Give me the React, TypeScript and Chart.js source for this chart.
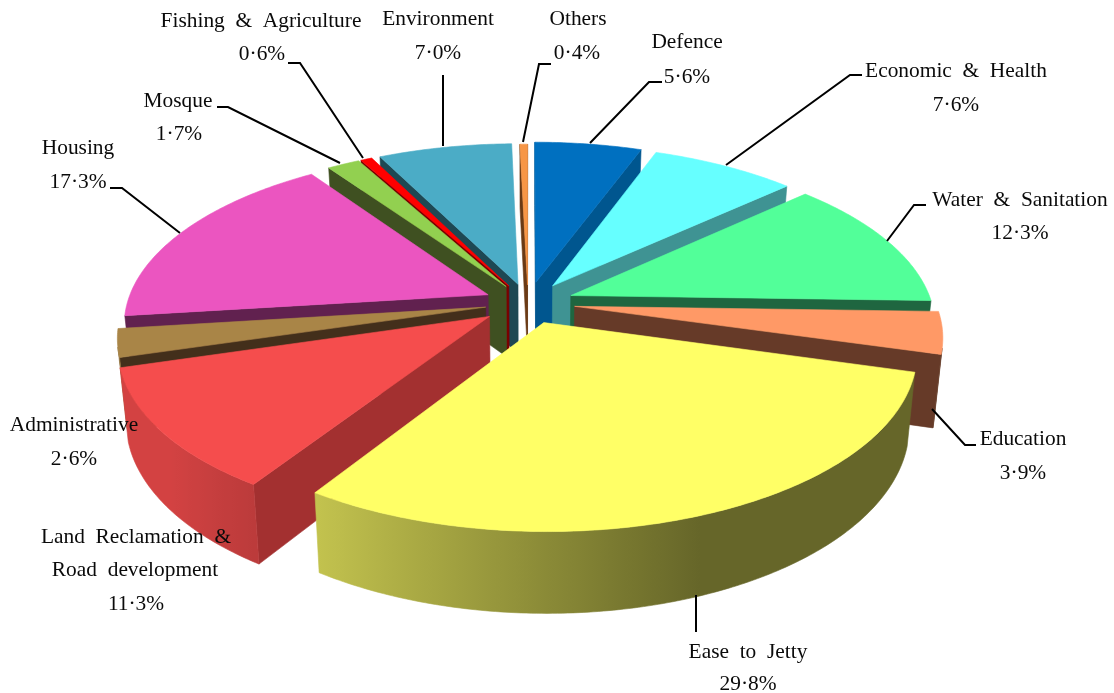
import React, { useEffect, useRef } from "react";
import { Chart, registerables } from "chart.js";

Chart.register(...registerables);

const categories = ["Defence", "Economic & Health", "Water & Sanitation", "Education", "Ease to Jetty", "Land Reclamation & Road development", "Administrative", "Housing", "Mosque", "Fishing & Agriculture", "Environment", "Others"];
const values = [5.6, 7.6, 12.3, 3.9, 29.8, 11.3, 2.6, 17.3, 1.7, 0.6, 7.0, 0.4];
const explode = [184, 180, 184, 188, 176, 190, 172, 176, 168, 168, 168, 158];
const topColors = ["#0070C0", "#66FFFF", "#52FF99", "#FF9966", "#FFFF66", "#F54D4D", "#A98547", "#EB55C0", "#92D050", "#FF0000", "#4BACC6", "#F79646"];
const wallColors = ["#00568F", "#3F9393", "#1F6640", "#663A28", "#66662A", "#A33030", "#432F1B", "#61214F", "#3F5021", "#7A0000", "#1E4853", "#6A3A15"];

// Label layout: lines with centre x and middle y; the last line holds the percentage.
const labelLines: [string, number, number][][] = [
  [["Defence", 687, 42]],
  [["Economic  &  Health", 956, 71]],
  [["Water  &  Sanitation", 1020, 200]],
  [["Education", 1023, 439]],
  [["Ease  to  Jetty", 748, 652]],
  [["Land  Reclamation  &", 136, 537], ["Road  development", 135, 570]],
  [["Administrative", 74, 425]],
  [["Housing", 78, 148]],
  [["Mosque", 178, 101]],
  [["Fishing  &  Agriculture", 261, 21]],
  [["Environment", 438, 19]],
  [["Others", 578, 19]],
];
const percentPos: [number, number][] = [[687, 77], [956, 105], [1020, 233], [1023, 473], [748, 684], [136, 604], [74, 459], [78, 182], [179, 134], [262, 54], [438, 53], [577, 53]];
const leaders: ([number, number][] | null)[] = [
  [[590, 143], [649, 82], [662, 82]],
  [[726, 165], [850, 75], [862, 75]],
  [[887, 241], [914, 205], [926, 205]],
  [[932, 409], [965, 445], [976, 445]],
  [[696, 595], [696, 632]],
  null,
  null,
  [[180, 233], [122, 188], [110, 188]],
  [[340, 163], [228, 107], [217, 107]],
  [[363, 158], [300, 63], [288, 63]],
  [[443, 146], [443, 75]],
  [[523, 142], [539, 64], [551, 64]],
];

const RADIUS = 361;
const TILT = 0.467;
const PERSP = 0.16;
const DEPTH = 71;
const Z_SHRINK = 0.02;

function shade(hex: string, f: number) {
  const n = parseInt(hex.slice(1), 16);
  return `rgb(${Math.round(((n >> 16) & 255) * f)},${Math.round(((n >> 8) & 255) * f)},${Math.round((n & 255) * f)})`;
}

const pie3d = {
  id: "pie3d",
  beforeDatasetDraw(chart: any) {
    const ctx: CanvasRenderingContext2D = chart.ctx;
    const arcs = chart.getDatasetMeta(0).data as any[];
    const order = arcs.map((_, i) => i).sort((a, b) => {
      const ma = (arcs[a].startAngle + arcs[a].endAngle) / 2;
      const mb = (arcs[b].startAngle + arcs[b].endAngle) / 2;
      return Math.sin(ma) - Math.sin(mb);
    });
    const poly = (pts: number[][], color: any) => {
      ctx.beginPath();
      pts.forEach((p, i) => (i ? ctx.lineTo(p[0], p[1]) : ctx.moveTo(p[0], p[1])));
      ctx.closePath();
      ctx.fillStyle = color;
      ctx.strokeStyle = color;
      ctx.lineWidth = 0.6;
      ctx.fill();
      ctx.stroke();
    };
    for (const i of order) {
      const el = arcs[i];
      const { x: cx, y: cy, startAngle, endAngle, outerRadius: R } = el.getProps(["x", "y", "startAngle", "endAngle", "outerRadius"], true);
      const mid = (startAngle + endAngle) / 2;
      const off = (el.options.offset || 0) / 4;
      const vx = Math.cos(mid) * off;
      const vy = Math.sin(mid) * off;
      const project = (x: number, y: number, z: number) => {
        const s = 1 / (1 - (PERSP * y) / R);
        const zs = 1 - Z_SHRINK * z;
        return [cx + x * s * zs, cy + TILT * y * s * zs + DEPTH * z * s];
      };
      const area = (q: number[][]) => {
        let a = 0;
        q.forEach((p, k) => {
          const n = q[(k + 1) % q.length];
          a += p[0] * n[1] - n[0] * p[1];
        });
        return a;
      };
      const steps = Math.max(2, Math.ceil((endAngle - startAngle) / 0.012));
      const rim: number[][] = [];
      for (let k = 0; k <= steps; k++) {
        const a = startAngle + ((endAngle - startAngle) * k) / steps;
        rim.push([vx + Math.cos(a) * R, vy + Math.sin(a) * R, a]);
      }
      const quad = (a: number[], b: number[]) => [project(a[0], a[1], 0), project(b[0], b[1], 0), project(b[0], b[1], 1), project(a[0], a[1], 1)];
      const wall = (a: number[], b: number[], color: string) => {
        const q = quad(a, b);
        if (area(q) < 0) poly(q, color);
      };
      const v = [vx, vy];
      wall(v, rim[0], wallColors[i]);
      wall(rim[steps], v, wallColors[i]);
      // The curved outer wall: contiguous front-facing runs, one horizontal gradient each.
      const fillRun = (from: number, to: number) => {
        const tops = [];
        const bots = [];
        for (let k = from; k <= to; k++) {
          tops.push(project(rim[k][0], rim[k][1], 0));
          bots.push(project(rim[k][0], rim[k][1], 1));
        }
        const xa = tops[0][0];
        const xb = tops[tops.length - 1][0];
        const grad = ctx.createLinearGradient(xa, 0, xb === xa ? xa + 1 : xb, 0);
        const stride = Math.max(1, Math.floor((to - from) / 24));
        for (let k = from; k <= to; k += stride) {
          const X = Math.cos(rim[k][2]);
          const f = Math.min(0.86, Math.max(0.4, 0.4 + (0.35 - X) * 0.41));
          const t = (tops[k - from][0] - xa) / (xb - xa || 1);
          grad.addColorStop(Math.min(1, Math.max(0, t)), shade(topColors[i], f));
        }
        poly([...tops, ...bots.reverse()], grad);
      };
      let runStart = -1;
      for (let k = 0; k < steps; k++) {
        const front = area(quad(rim[k], rim[k + 1])) < 0;
        if (front && runStart < 0) runStart = k;
        if (!front && runStart >= 0) {
          fillRun(runStart, k);
          runStart = -1;
        }
      }
      if (runStart >= 0) fillRun(runStart, steps);
      const face = [project(vx, vy, 0), ...rim.map((p) => project(p[0], p[1], 0))];
      poly(face, topColors[i]);
    }
    return false;
  },
  afterDraw(chart: any) {
    const ctx: CanvasRenderingContext2D = chart.ctx;
    ctx.save();
    ctx.strokeStyle = "#000";
    ctx.lineWidth = 2;
    ctx.lineJoin = "miter";
    leaders.forEach((l) => {
      if (!l) return;
      ctx.beginPath();
      l.forEach((p, i) => (i ? ctx.lineTo(p[0], p[1]) : ctx.moveTo(p[0], p[1])));
      ctx.stroke();
    });
    ctx.fillStyle = "#0a0a0a";
    ctx.font = '21.4px "Liberation Serif"';
    ctx.textAlign = "center";
    ctx.textBaseline = "middle";
    labelLines.forEach((lines, i) => {
      lines.forEach(([t, x, y]) => ctx.fillText(t, x, y));
      const [px, py] = percentPos[i];
      ctx.fillText(values[i].toFixed(1).replace(".", "\u00B7") + "%", px, py);
    });
    ctx.restore();
  },
};

export default function App() {
  const ref = useRef<HTMLCanvasElement>(null);
  useEffect(() => {
    const chart = new Chart(ref.current as HTMLCanvasElement, {
      type: "pie",
      data: {
        labels: categories,
        datasets: [{ data: values, backgroundColor: topColors, borderWidth: 0, offset: explode, radius: RADIUS } as any],
      },
      options: {
        responsive: false,
        animation: false,
        devicePixelRatio: 1,
        events: [],
        rotation: 0,
        layout: { padding: { left: 0, top: 0, right: 58, bottom: 87 } },
        plugins: { legend: { display: false }, tooltip: { enabled: false } },
      } as any,
      plugins: [pie3d as any],
    });
    return () => chart.destroy();
  }, []);
  return <canvas ref={ref} width={1114} height={693} style={{ position: "fixed", left: 0, top: 0, display: "block", background: "#fff" }} />;
}
